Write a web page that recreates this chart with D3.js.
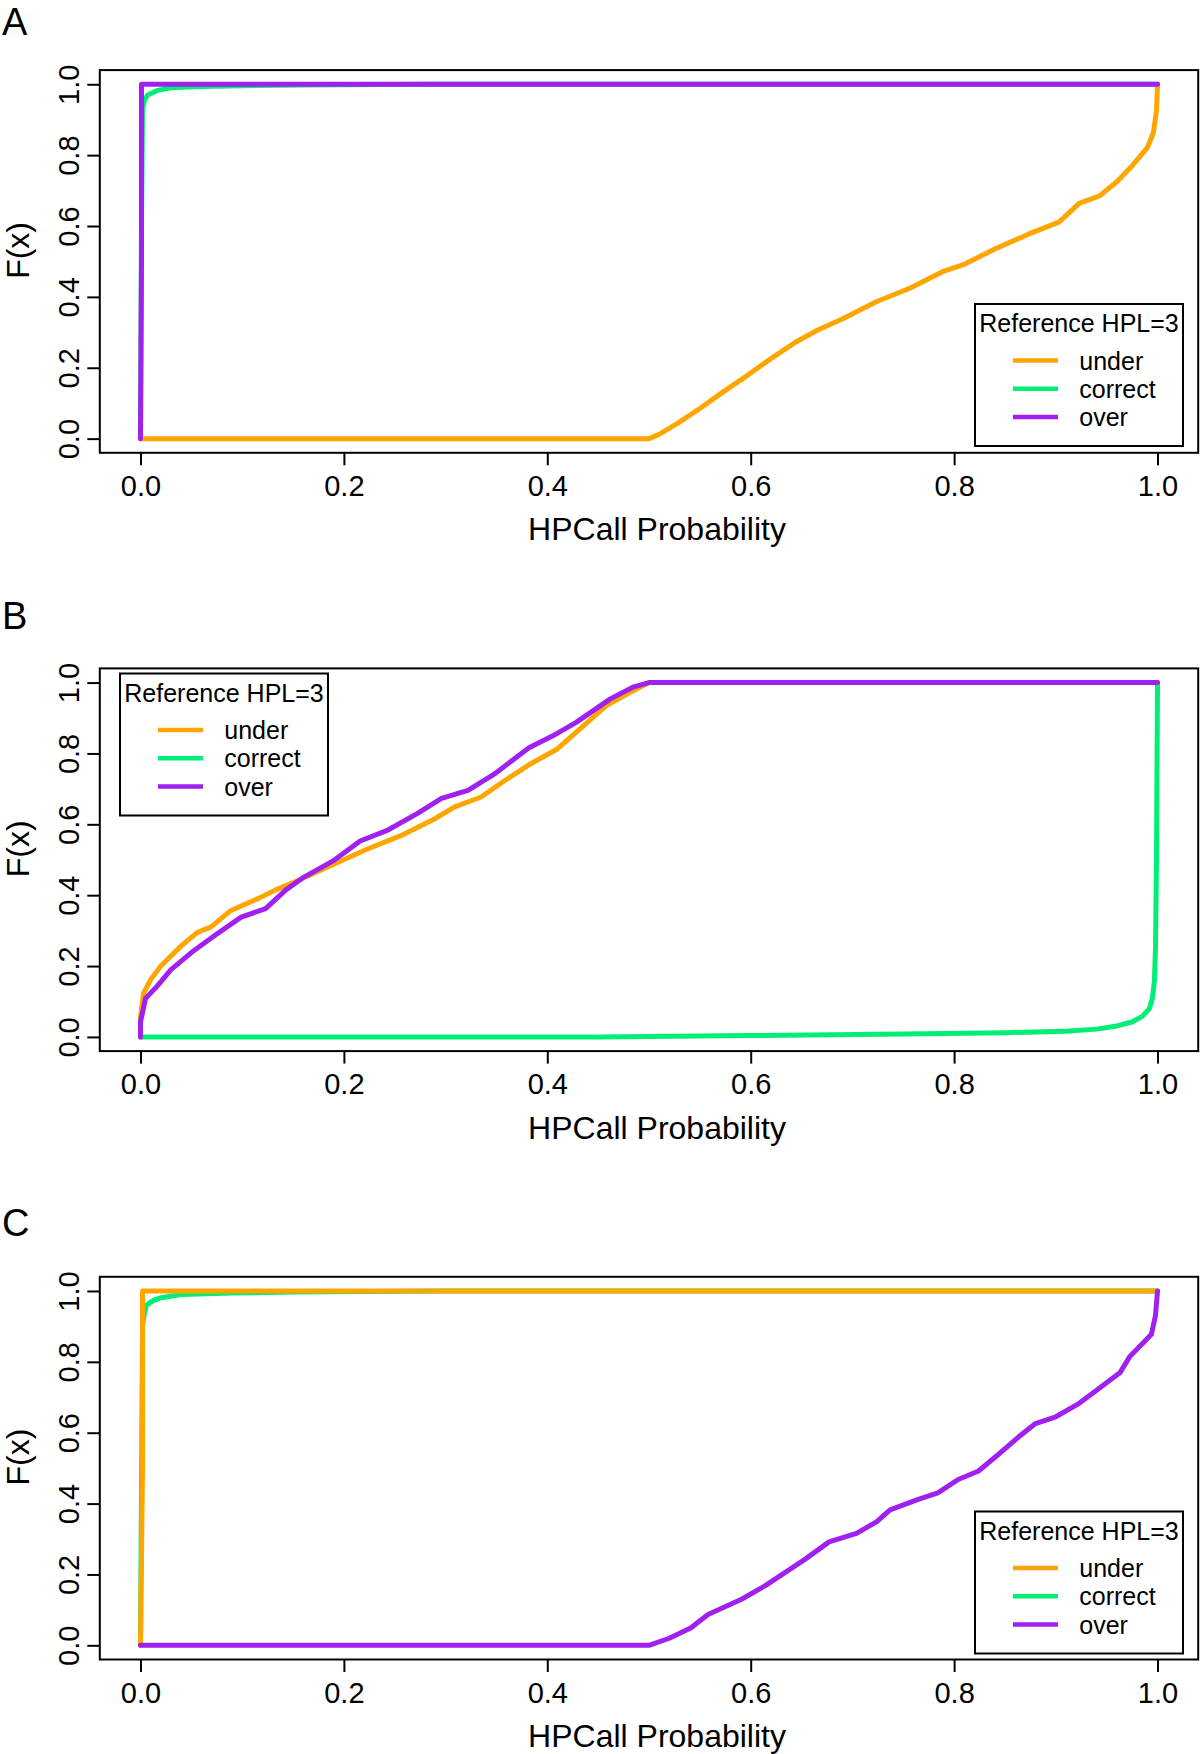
<!DOCTYPE html>
<html>
<head>
<meta charset="utf-8">
<script src="https://cdn.jsdelivr.net/npm/d3@7"></script>
<style>
  body { margin: 0; background: #fff; }
  svg { display: block; font-family: "Liberation Sans", Arial, Helvetica, sans-serif; }
</style>
</head>
<body>
<svg id="s" width="1200" height="1754"></svg>
<script>
// Labels / ticks
const xTicks = [0, 0.2, 0.4, 0.6, 0.8, 1.0],
  yTicks = [0, 0.2, 0.4, 0.6, 0.8, 1.0],
  seriesNames = ["under", "correct", "over"],
  seriesColors = ["#FFA500", "#00EE76", "#A020F0"],
  drawOrder = [1, 0, 2], // correct, under, over
  legendTitle = "Reference HPL=3",
  xTitle = "HPCall Probability",
  yTitle = "F(x)",
  panelLabels = ["A", "B", "C"];

// Panel A  (x = HPCall probability, F(x))
const aUnder = [[0, 0], [0.5, 0], [0.51, 0.012], [0.528, 0.043], [0.55, 0.085], [0.574, 0.134], [0.595, 0.175],
    [0.617, 0.22], [0.644, 0.272], [0.665, 0.305], [0.691, 0.339], [0.724, 0.387], [0.757, 0.425], [0.79, 0.473],
    [0.81, 0.492], [0.84, 0.535], [0.873, 0.577], [0.903, 0.611], [0.923, 0.664], [0.943, 0.685], [0.96, 0.725],
    [0.976, 0.773], [0.99, 0.821], [0.996, 0.864], [0.999, 0.926], [1, 1]],
  aCorrect = [[0, 0], [0.001, 0.6], [0.002, 0.93], [0.004, 0.955], [0.007, 0.97], [0.016, 0.982], [0.03, 0.99],
    [0.06, 0.994], [0.1, 0.996], [0.16, 0.998], [0.28, 1], [1, 1]],
  aOver = [[0, 0], [0.001, 0.5], [0.001, 1], [1, 1]];

// Panel B
const bUnder = [[0, 0], [0, 0.056], [0.003, 0.123], [0.01, 0.162], [0.02, 0.2], [0.04, 0.257], [0.056, 0.295],
    [0.069, 0.31], [0.089, 0.357], [0.116, 0.391], [0.133, 0.415], [0.156, 0.443], [0.189, 0.486], [0.222, 0.529],
    [0.256, 0.568], [0.289, 0.615], [0.309, 0.649], [0.335, 0.677], [0.359, 0.725], [0.382, 0.768], [0.409, 0.811],
    [0.428, 0.859], [0.458, 0.935], [0.482, 0.973], [0.5, 1], [1, 1]],
  bCorrect = [[0, 0], [0.45, 0], [0.6, 0.004], [0.75, 0.008], [0.85, 0.012], [0.91, 0.016], [0.94, 0.022],
    [0.96, 0.031], [0.975, 0.042], [0.985, 0.058], [0.992, 0.08], [0.995, 0.11], [0.997, 0.16], [0.998, 0.25],
    [0.999, 0.5], [0.9995, 0.76], [1, 1]],
  bOver = [[0, 0], [0, 0.042], [0.005, 0.109], [0.016, 0.142], [0.03, 0.19], [0.05, 0.238], [0.073, 0.286],
    [0.099, 0.338], [0.123, 0.362], [0.143, 0.415], [0.159, 0.448], [0.189, 0.496], [0.216, 0.553], [0.242, 0.582],
    [0.272, 0.63], [0.296, 0.673], [0.322, 0.696], [0.349, 0.744], [0.382, 0.816], [0.405, 0.849], [0.428, 0.887],
    [0.462, 0.954], [0.485, 0.988], [0.5, 1], [1, 1]];

// Panel C
const cUnder = [[0, 0], [0.002, 0.5], [0.002, 1], [1, 1]],
  cCorrect = [[0, 0], [0.002, 0.9], [0.004, 0.94], [0.006, 0.96], [0.012, 0.972], [0.019, 0.98], [0.04, 0.99],
    [0.09, 0.994], [0.15, 0.997], [0.3, 1], [1, 1]],
  cOver = [[0, 0], [0.5, 0], [0.52, 0.02], [0.541, 0.049], [0.558, 0.087], [0.591, 0.13], [0.614, 0.168],
    [0.634, 0.206], [0.654, 0.244], [0.677, 0.292], [0.704, 0.316], [0.724, 0.349], [0.737, 0.382], [0.764, 0.411],
    [0.784, 0.43], [0.804, 0.468], [0.824, 0.492], [0.844, 0.54], [0.863, 0.587], [0.88, 0.626], [0.9, 0.645],
    [0.923, 0.683], [0.943, 0.726], [0.963, 0.769], [0.973, 0.816], [0.986, 0.854], [0.994, 0.878], [0.998, 0.931],
    [1, 1]];

const panelSeries = [[aUnder, aCorrect, aOver], [bUnder, bCorrect, bOver], [cUnder, cCorrect, cOver]];

// Layout
const svg = d3.select("#s"),
  panelTop = [70.1, 668.4, 1276.8],
  labelBase = [34.5, 628.5, 1236],
  boxH = 382.7,
  legendPos = [[975, 304], [120, 673.5], [975, 1511.5]],
  x = d3.scaleLinear().domain([-0.04, 1.04]).range([99.8, 1198.2]),
  [bx0, bx1] = x.range(),
  fmt = d3.format(".1f");

panelSeries.forEach((series, i) => {
  const top = panelTop[i],
    bottom = top + boxH,
    y = d3.scaleLinear().domain([-0.04, 1.04]).range([bottom, top]),
    g = svg.append("g"),
    line = d3.line().x(d => x(d[0])).y(d => y(d[1]));

  // panel letter
  g.append("text")
    .attr("x", 2).attr("y", labelBase[i])
    .attr("font-size", 38)
    .text(panelLabels[i]);

  // curves
  drawOrder.forEach(k => {
    g.append("path")
      .datum(series[k])
      .attr("d", line)
      .attr("fill", "none")
      .attr("stroke", seriesColors[k])
      .attr("stroke-width", 5)
      .attr("stroke-linejoin", "round")
      .attr("stroke-linecap", "round");
  });

  // box
  g.append("rect")
    .attr("x", bx0).attr("y", top)
    .attr("width", bx1 - bx0).attr("height", boxH)
    .attr("fill", "none").attr("stroke", "#000").attr("stroke-width", 2);

  // x axis
  const xa = g.append("g")
    .attr("transform", `translate(0,${bottom})`)
    .call(d3.axisBottom(x).tickValues(xTicks).tickFormat(fmt).tickSize(12.5));
  xa.select(".domain").remove();
  xa.selectAll("line").attr("stroke-width", 2);
  xa.selectAll("text")
    .attr("y", 43.4).attr("dy", null)
    .attr("font-size", 29).attr("fill", "#000");
  xa.attr("font-family", null).attr("font-size", null);

  // y axis
  const ya = g.append("g")
    .attr("transform", `translate(${bx0},0)`)
    .call(d3.axisLeft(y).tickValues(yTicks).tickFormat(fmt).tickSize(12.5));
  ya.select(".domain").remove();
  ya.selectAll("line").attr("stroke-width", 2);
  ya.selectAll("text")
    .attr("x", null).attr("dy", null)
    .attr("text-anchor", "middle")
    .attr("transform", "translate(-21,0) rotate(-90)")
    .attr("font-size", 29).attr("fill", "#000");
  ya.attr("font-family", null).attr("font-size", null);

  // axis titles
  g.append("text")
    .attr("x", 657).attr("y", bottom + 87.5)
    .attr("text-anchor", "middle")
    .attr("font-size", 32)
    .text(xTitle);
  g.append("text")
    .attr("transform", `translate(29,${(top + bottom) / 2 - 11}) rotate(-90)`)
    .attr("text-anchor", "middle")
    .attr("font-size", 32)
    .text(yTitle);

  // legend
  const [lx, ly] = legendPos[i],
    lw = 208, lh = 142,
    lg = g.append("g").attr("transform", `translate(${lx},${ly})`);
  lg.append("rect")
    .attr("width", lw).attr("height", lh)
    .attr("fill", "#fff").attr("stroke", "#000").attr("stroke-width", 2);
  lg.append("text")
    .attr("x", lw / 2).attr("y", 28)
    .attr("text-anchor", "middle")
    .attr("font-size", 25)
    .text(legendTitle);
  seriesNames.forEach((name, k) => {
    const ry = 56.6 + k * 28.2;
    lg.append("line")
      .attr("x1", 38).attr("x2", 83)
      .attr("y1", ry).attr("y2", ry)
      .attr("stroke", seriesColors[k]).attr("stroke-width", 4.5);
    lg.append("text")
      .attr("x", 104.3).attr("y", ry + 9)
      .attr("font-size", 25)
      .text(name);
  });
});
</script>
</body>
</html>
